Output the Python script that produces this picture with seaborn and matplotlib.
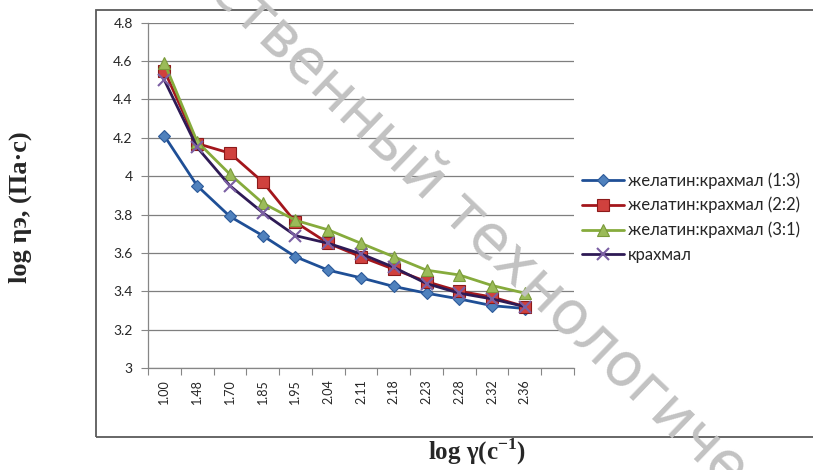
import numpy as np
import matplotlib
matplotlib.use("Agg")
import matplotlib.pyplot as plt
import matplotlib.patches as mpatches
from matplotlib.ticker import FixedLocator, FuncFormatter
import seaborn as sns

# shear rate (log) categories
categories = ["1.00", "1.48", "1.70", "1.85", "1.95", "2.04",
              "2.11", "2.18", "2.23", "2.28", "2.32", "2.36"]

# log viscosity per composition
gel_starch_13 = [4.21, 3.95, 3.79, 3.69, 3.58, 3.51, 3.47, 3.425, 3.39, 3.36, 3.325, 3.31]
gel_starch_22 = [4.55, 4.17, 4.12, 3.97, 3.76, 3.65, 3.58, 3.515, 3.45, 3.40, 3.37, 3.32]
gel_starch_31 = [4.59, 4.18, 4.01, 3.86, 3.77, 3.72, 3.65, 3.58, 3.51, 3.485, 3.43, 3.39]
starch = [4.50, 4.15, 3.95, 3.81, 3.69, 3.65, 3.595, 3.525, 3.44, 3.39, 3.36, 3.32]

labels = ["желатин:крахмал (1:3)", "желатин:крахмал (2:2)",
          "желатин:крахмал (3:1)", "крахмал"]

sns.set_style("white")
plt.rcParams["font.family"] = ["Lato", "DejaVu Sans"]
plt.rcParams["mathtext.fontset"] = "custom"
plt.rcParams["mathtext.rm"] = "Liberation Serif:bold"
plt.rcParams["mathtext.bf"] = "Liberation Serif:bold"

fig = plt.figure(figsize=(8.13, 4.70), dpi=100)
W, H = 813, 470
ax = fig.add_axes([148 / W, 1 - 368 / H, (574 - 148) / W, (368 - 22.7) / H])

x = np.arange(len(categories))
styles = [
    (gel_starch_13, "#1f4f96", "D", "#4f81bd", "#2c5a9a", 6.5),
    (gel_starch_22, "#a3161c", "s", "#d0413e", "#8c1a1a", 8.5),
    (gel_starch_31, "#86ab3c", "^", "#9bbb59", "#7a9a3a", 8.5),
    (starch, "#2e1a55", "x", "#8064a2", "#7b5fa3", 8.5),
]
for (vals, lc, mk, mfc, mec, ms), lab in zip(styles, labels):
    sns.lineplot(x=x, y=vals, ax=ax, color=lc, linewidth=2.0, marker=mk,
                 markersize=ms, markerfacecolor=mfc, markeredgecolor=mec,
                 markeredgewidth=1.5 if mk == "x" else 0.8, label=lab,
                 legend=False)

ax.set_xlim(-0.5, len(categories) + 0.5)
ax.set_ylim(3.0, 4.8)
ax.set_xticks(x)
ax.set_xticklabels(categories, rotation=90, fontsize=9)
ax.xaxis.set_minor_locator(FixedLocator(np.arange(-0.5, len(categories) + 1, 1)))
ax.tick_params(axis="x", which="major", length=0, pad=8)
ax.tick_params(axis="x", which="minor", length=5, width=0.8, color="#868686",
               direction="out", bottom=True)
yticks = np.round(np.arange(3.0, 4.81, 0.2), 1)
ax.set_yticks(yticks)
ax.yaxis.set_major_formatter(FuncFormatter(lambda v, p: f"{v:g}"))
ax.tick_params(axis="y", length=5, width=0.8, color="#868686", labelsize=10,
               pad=6, left=True, direction="out")
ax.grid(axis="y", color="#7f7f7f", linewidth=0.9)
ax.set_axisbelow(True)
for s in ["top", "right"]:
    ax.spines[s].set_visible(False)
for s in ["left", "bottom"]:
    ax.spines[s].set_color("#868686")
    ax.spines[s].set_linewidth(0.9)
ax.set_xlabel("")
ax.set_ylabel("")

handles, hl = ax.get_legend_handles_labels()
fig.legend(handles, hl, loc="upper left", bbox_to_anchor=(582 / W, 1 - 172 / H),
           frameon=False, fontsize=12, handlelength=2.5, handletextpad=0.25,
           labelspacing=0.5, borderaxespad=0, borderpad=0)

# chart area border
fig.patches.append(mpatches.Rectangle((96 / W, 1 - 437 / H), 1.0, (437 - 10) / H,
                                      transform=fig.transFigure, fill=False,
                                      edgecolor="#5a5a5a", linewidth=1.3))

fig.text(20 / W, 1 - 207 / H, "log ηэ, (Па·с)", rotation=90, ha="center",
         va="center", fontsize=19, fontweight="bold",
         family=["Liberation Serif", "DejaVu Serif"])
fig.text(477 / W, 1 - 452 / H, "log γ(c$^{-1}$)", ha="center", va="center",
         fontsize=18, fontweight="bold",
         family=["Liberation Serif", "DejaVu Serif"])

# watermark
fig.text(478 / W, 1 - 230 / H, "ственный технологиче", rotation=-43.8,
         rotation_mode="anchor", ha="center", va="center", fontsize=43,
         color="#c2c2c2", family="DejaVu Sans", zorder=10)

fig.savefig("out.png", dpi=100)
